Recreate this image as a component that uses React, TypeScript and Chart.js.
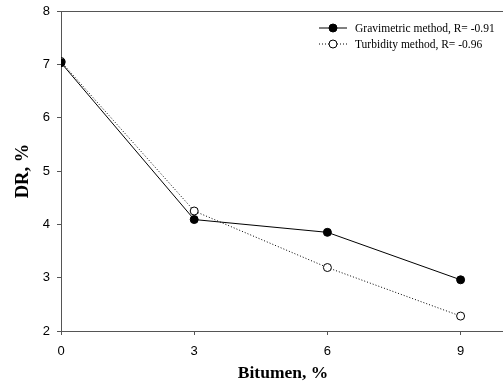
import React, { useEffect, useRef } from 'react';
import { Chart, registerables } from 'chart.js';
Chart.register(...registerables);

const bitumen = [0, 3, 6, 9];
const gravimetric = [7.03, 4.09, 3.85, 2.96];
const turbidity = [7.05, 4.25, 3.19, 2.28];
const xTickValues = [0, 3, 6, 9];
const seriesLabels = ['Gravimetric method, R= -0.91', 'Turbidity method, R= -0.96'];
const xTitle = 'Bitumen, %';
const yTitle = 'DR, %';

const AXIS = '#555555';

const frameTopPlugin = {
  id: 'frameTop',
  afterDraw(chart: any) {
    const { ctx, chartArea } = chart;
    ctx.save();
    ctx.strokeStyle = AXIS;
    ctx.lineWidth = 1;
    ctx.beginPath();
    ctx.moveTo(chartArea.left, chartArea.top + 0.5);
    ctx.lineTo(chartArea.right, chartArea.top + 0.5);
    ctx.stroke();
    ctx.restore();
  },
};

const innerLegendPlugin = {
  id: 'innerLegend',
  afterDraw(chart: any) {
    const { ctx, chartArea } = chart;
    const x0 = chartArea.right - 186;
    const x1 = x0 + 28;
    const tx = x1 + 8;
    ctx.save();
    chart.data.datasets.forEach((ds: any, i: number) => {
      const y = chartArea.top + 16.5 + i * 16;
      ctx.strokeStyle = ds.borderColor;
      ctx.lineWidth = ds.borderWidth;
      ctx.setLineDash(ds.borderDash || []);
      ctx.beginPath();
      ctx.moveTo(x0, y + 0.5);
      ctx.lineTo(x1, y + 0.5);
      ctx.stroke();
      ctx.setLineDash([]);
      ctx.beginPath();
      ctx.arc((x0 + x1) / 2, y + 0.5, ds.pointRadius, 0, Math.PI * 2);
      ctx.fillStyle = ds.pointBackgroundColor;
      ctx.fill();
      ctx.lineWidth = 1;
      ctx.strokeStyle = ds.pointBorderColor;
      ctx.stroke();
      ctx.fillStyle = '#000';
      ctx.font = '11.5px "Liberation Serif", "Times New Roman", serif';
      ctx.textBaseline = 'middle';
      ctx.textAlign = 'left';
      ctx.fillText(ds.label, tx, y + 1);
    });
    ctx.restore();
  },
};

export default function App() {
  const ref = useRef<HTMLCanvasElement>(null);
  useEffect(() => {
    const canvas = ref.current!;
    const chart = new Chart(canvas, {
      type: 'line',
      data: {
        datasets: [
          {
            label: seriesLabels[0],
            data: bitumen.map((x, i) => ({ x, y: gravimetric[i] })),
            borderColor: '#000',
            borderWidth: 1,
            pointRadius: 4,
            pointBackgroundColor: '#000',
            pointBorderColor: '#000',
            pointBorderWidth: 1,
            tension: 0,
          },
          {
            label: seriesLabels[1],
            data: bitumen.map((x, i) => ({ x, y: turbidity[i] })),
            borderColor: '#000',
            borderWidth: 1,
            borderDash: [1, 2],
            pointRadius: 4,
            pointBackgroundColor: '#fff',
            pointBorderColor: '#000',
            pointBorderWidth: 1,
            tension: 0,
          },
        ],
      },
      options: {
        animation: false,
        responsive: false,
        maintainAspectRatio: false,
        layout: { padding: { top: 11, left: 0, right: 0, bottom: 0 } },
        plugins: { legend: { display: false }, tooltip: { enabled: false } },
        scales: {
          x: {
            type: 'linear',
            min: 0,
            max: 10,
            afterBuildTicks: (scale: any) => {
              scale.ticks = xTickValues.map((v) => ({ value: v }));
            },
            afterFit: (scale: any) => {
              scale.height = 58;
            },
            grid: { drawOnChartArea: false, drawTicks: true, tickLength: 4, color: AXIS },
            border: { color: AXIS, width: 1 },
            ticks: {
              color: '#000',
              padding: 9,
              maxRotation: 0,
              font: { family: '"Liberation Sans", Arial, sans-serif', size: 13 },
            },
            title: {
              display: true,
              text: xTitle,
              color: '#000',
              font: { family: '"Liberation Serif", "Times New Roman", serif', size: 17.5, weight: 'bold' },
              padding: { top: 0, bottom: 5 },
            },
          },
          y: {
            type: 'linear',
            min: 2,
            max: 8,
            ticks: {
              stepSize: 1,
              color: '#000',
              padding: 7,
              font: { family: '"Liberation Sans", Arial, sans-serif', size: 13, lineHeight: 1 },
            },
            afterFit: (scale: any) => {
              scale.width = 61;
              scale.paddingTop = 0;
            },
            grid: { drawOnChartArea: false, drawTicks: true, tickLength: 4, color: AXIS },
            border: { color: AXIS, width: 1 },
            title: {
              display: true,
              text: yTitle,
              color: '#000',
              font: { family: '"Liberation Serif", "Times New Roman", serif', size: 18.5, weight: 'bold' },
              padding: { top: 12, bottom: 0 },
            },
          },
        },
      },
      plugins: [frameTopPlugin, innerLegendPlugin],
    } as any);
    return () => chart.destroy();
  }, []);
  return (
    <div
      style={{
        position: 'fixed',
        left: 0,
        top: 0,
        width: 503,
        height: 389,
        overflow: 'hidden',
        background: '#fff',
      }}
    >
      <canvas ref={ref} width={510} height={389} style={{ width: 510, height: 389, display: 'block' }} />
    </div>
  );
}
